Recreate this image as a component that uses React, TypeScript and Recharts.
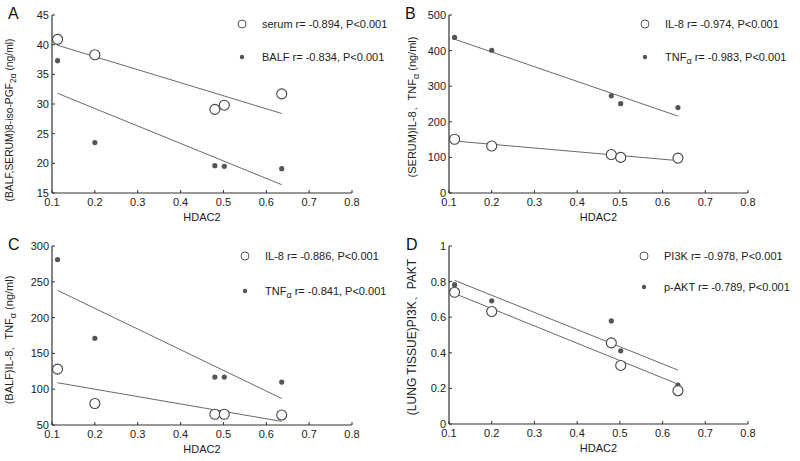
import React from "react";
import { ScatterChart, Scatter, XAxis, YAxis, ReferenceLine } from "recharts";

// HDAC2 expression (x) shared by all four panels
const HDAC2 = [0.113, 0.2, 0.48, 0.502, 0.636];
const X_TICKS = [0.1, 0.2, 0.3, 0.4, 0.5, 0.6, 0.7, 0.8];
const FIT_X = [0.113, 0.636];

// A: 8-iso-PGF2a
const SERUM_ISO = [40.9, 38.3, 29.1, 29.8, 31.7];
const BALF_ISO = [37.3, 23.5, 19.6, 19.5, 19.1];
const SERUM_ISO_FIT = [39.9, 28.4];
const BALF_ISO_FIT = [31.8, 16.4];
const A_TICKS = [15, 20, 25, 30, 35, 40, 45];

// B: serum IL-8 / TNFa
const SERUM_IL8 = [151, 132, 108, 100, 98];
const SERUM_TNF = [437, 401, 273, 251, 240];
const SERUM_IL8_FIT = [146, 91];
const SERUM_TNF_FIT = [432, 216];
const B_TICKS = [0, 100, 200, 300, 400, 500];

// C: BALF IL-8 / TNFa
const BALF_IL8 = [128, 80, 65, 65, 64];
const BALF_TNF = [281, 171, 117, 117, 110];
const BALF_IL8_FIT = [109, 55];
const BALF_TNF_FIT = [238, 87];
const C_TICKS = [50, 100, 150, 200, 250, 300];

// D: lung tissue PI3K / pAKT
const PI3K = [0.74, 0.632, 0.456, 0.329, 0.187];
const PAKT = [0.783, 0.692, 0.579, 0.411, 0.219];
const PI3K_FIT = [0.733, 0.224];
const PAKT_FIT = [0.807, 0.303];
const D_TICKS = [0, 0.2, 0.4, 0.6, 0.8, 1];

const FONT = "'Liberation Sans', Arial, sans-serif";
const INK = "#333";

const toPoints = (ys: number[]) => HDAC2.map((x, i) => ({ x, y: ys[i] }));
const toSegment = (ys: number[]) => FIT_X.map((x, i) => ({ x, y: ys[i] }));

const OpenDot = (p: any) => <circle cx={p.cx} cy={p.cy} r={5} fill="#fff" stroke="#444" strokeWidth={1.1} />;
const FilledDot = (p: any) => <circle cx={p.cx} cy={p.cy} r={2.6} fill="#555" />;

type Sub = { text: string; sub?: string; rest?: string };

const SubText = ({ t }: { t: Sub }) => (
  <>
    {t.text}
    {t.sub && (
      <tspan dy={4} fontSize="0.82em">
        {t.sub}
      </tspan>
    )}
    {t.rest && <tspan dy={t.sub ? -4 : 0}>{t.rest}</tspan>}
  </>
);

interface PanelProps {
  letter: string;
  height: number;
  margin: { top: number; right: number; bottom: number; left: number };
  yWidth: number;
  yDomain: [number, number];
  yTicks: number[];
  yTitle: Sub;
  yTitlePos: [number, number];
  yTitleSize: number;
  open: number[];
  filled: number[];
  openFit: number[];
  filledFit: number[];
  openLabel: Sub;
  filledLabel: Sub;
  legendX: number;
  legendY: [number, number];
  letterPos: [number, number];
}

function Panel(props: PanelProps) {
  const { margin, legendX, legendY } = props;
  const [tx, ty] = props.yTitlePos;
  return (
    <ScatterChart width={400} height={props.height} margin={margin} style={{ fontFamily: FONT }}>
      <XAxis
        type="number"
        dataKey="x"
        domain={[0.1, 0.8]}
        ticks={X_TICKS}
        height={30}
        tickSize={-3}
        tickMargin={8}
        axisLine={{ stroke: INK, strokeWidth: 1.2 }}
        tickLine={{ stroke: INK }}
        tick={{ fill: "#222", fontSize: 11 }}
        label={{
          content: (lp: any) => {
            const vb = lp.viewBox;
            return (
              <text x={vb.x + vb.width / 2} y={vb.y + 28} textAnchor="middle" fontSize={11} fill="#222">
                HDAC2
              </text>
            );
          },
        }}
      />
      <YAxis
        type="number"
        dataKey="y"
        domain={props.yDomain}
        ticks={props.yTicks}
        width={props.yWidth}
        tickSize={-3}
        tickMargin={6}
        axisLine={{ stroke: INK, strokeWidth: 1.2 }}
        tickLine={{ stroke: INK }}
        tick={{ fill: "#222", fontSize: 11 }}
        label={{
          content: () => (
            <text
              x={tx}
              y={ty}
              transform={`rotate(-90 ${tx} ${ty})`}
              textAnchor="middle"
              dominantBaseline="central"
              fontSize={props.yTitleSize}
              fill="#222"
            >
              <SubText t={props.yTitle} />
            </text>
          ),
        }}
      />
      <ReferenceLine segment={toSegment(props.filledFit)} stroke="#6a6a6a" strokeWidth={1} />
      <ReferenceLine segment={toSegment(props.openFit)} stroke="#6a6a6a" strokeWidth={1} />
      <Scatter data={toPoints(props.filled)} shape={FilledDot} isAnimationActive={false} />
      <Scatter data={toPoints(props.open)} shape={OpenDot} isAnimationActive={false} />

      <text x={props.letterPos[0]} y={props.letterPos[1]} fontSize={16} fill="#111">
        {props.letter}
      </text>
      <g fontSize={11} fill="#222">
        <circle cx={legendX} cy={legendY[0]} r={4} fill="#fff" stroke="#555" />
        <text x={legendX + 20} y={legendY[0]} dominantBaseline="central">
          <SubText t={props.openLabel} />
        </text>
        <circle cx={legendX} cy={legendY[1]} r={2.2} fill="#555" />
        <text x={legendX + 20} y={legendY[1]} dominantBaseline="central">
          <SubText t={props.filledLabel} />
        </text>
      </g>
    </ScatterChart>
  );
}

export default function App() {
  return (
    <div
      style={{
        position: "absolute",
        left: 0,
        top: 0,
        width: 800,
        height: 461,
        background: "#fff",
        fontFamily: FONT,
      }}
    >
      <div style={{ position: "absolute", left: 0, top: 0 }}>
        <Panel
          letter="A"
          letterPos={[8, 19]}
          height={230}
          margin={{ top: 15, right: 48, bottom: 7, left: 2 }}
          yWidth={50}
          yDomain={[15, 45]}
          yTicks={A_TICKS}
          yTitle={{ text: "(BALF,SERUM)8-iso-PGF", sub: "2α", rest: "  (ng/ml)" }}
          yTitlePos={[9, 120]}
          yTitleSize={10.3}
          open={SERUM_ISO}
          filled={BALF_ISO}
          openFit={SERUM_ISO_FIT}
          filledFit={BALF_ISO_FIT}
          openLabel={{ text: "serum r= -0.894, P<0.001" }}
          filledLabel={{ text: "BALF r= -0.834, P<0.001" }}
          legendX={242}
          legendY={[24, 57]}
        />
      </div>
      <div style={{ position: "absolute", left: 400, top: 0 }}>
        <Panel
          letter="B"
          letterPos={[5, 19]}
          height={230}
          margin={{ top: 15, right: 52, bottom: 7, left: 0 }}
          yWidth={49}
          yDomain={[0, 500]}
          yTicks={B_TICKS}
          yTitle={{ text: "(SERUM)IL-8、TNF", sub: "α", rest: " (ng/ml)" }}
          yTitlePos={[12, 107]}
          yTitleSize={11}
          open={SERUM_IL8}
          filled={SERUM_TNF}
          openFit={SERUM_IL8_FIT}
          filledFit={SERUM_TNF_FIT}
          openLabel={{ text: "IL-8 r= -0.974, P<0.001" }}
          filledLabel={{ text: "TNF", sub: "α", rest: " r= -0.983, P<0.001" }}
          legendX={245}
          legendY={[24, 57]}
        />
      </div>
      <div style={{ position: "absolute", left: 0, top: 230 }}>
        <Panel
          letter="C"
          letterPos={[8, 20]}
          height={231}
          margin={{ top: 16, right: 48, bottom: 6, left: 2 }}
          yWidth={50}
          yDomain={[50, 300]}
          yTicks={C_TICKS}
          yTitle={{ text: "(BALF)IL-8、TNF", sub: "α", rest: " (ng/ml)" }}
          yTitlePos={[9, 110]}
          yTitleSize={11}
          open={BALF_IL8}
          filled={BALF_TNF}
          openFit={BALF_IL8_FIT}
          filledFit={BALF_TNF_FIT}
          openLabel={{ text: "IL-8 r= -0.886, P<0.001" }}
          filledLabel={{ text: "TNF", sub: "α", rest: " r= -0.841, P<0.001" }}
          legendX={245}
          legendY={[26, 61]}
        />
      </div>
      <div style={{ position: "absolute", left: 400, top: 230 }}>
        <Panel
          letter="D"
          letterPos={[6, 20]}
          height={231}
          margin={{ top: 16, right: 52, bottom: 7, left: 0 }}
          yWidth={49}
          yDomain={[0, 1]}
          yTicks={D_TICKS}
          yTitle={{ text: "(LUNG TISSUE)PI3K、PAKT" }}
          yTitlePos={[12, 107]}
          yTitleSize={12}
          open={PI3K}
          filled={PAKT}
          openFit={PI3K_FIT}
          filledFit={PAKT_FIT}
          openLabel={{ text: "PI3K r= -0.978, P<0.001" }}
          filledLabel={{ text: "p-AKT r= -0.789, P<0.001" }}
          legendX={244}
          legendY={[26, 57]}
        />
      </div>
    </div>
  );
}
